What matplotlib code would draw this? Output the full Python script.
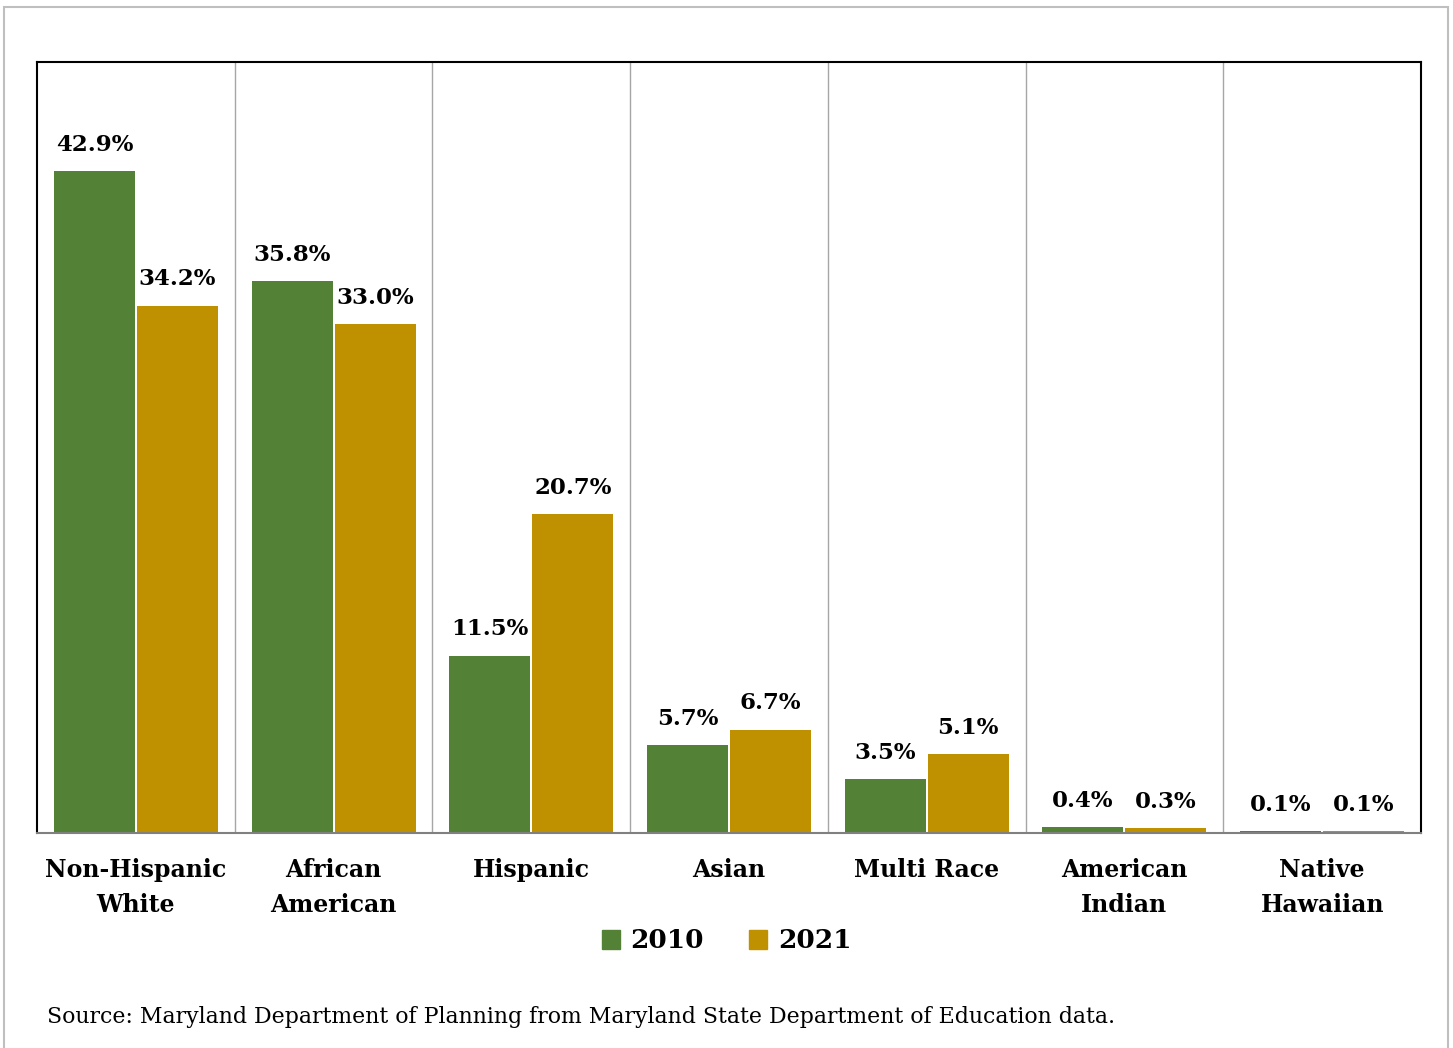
import matplotlib.pyplot as plt
from matplotlib.patches import Patch, Rectangle
from matplotlib.font_manager import FontProperties
import numpy as np

categories = ['Non-Hispanic\nWhite', 'African\nAmerican', 'Hispanic', 'Asian',
              'Multi Race', 'American\nIndian', 'Native\nHawaiian']
pct_2010 = [42.9, 35.8, 11.5, 5.7, 3.5, 0.4, 0.1]
pct_2021 = [34.2, 33.0, 20.7, 6.7, 5.1, 0.3, 0.1]

green = '#538135'
gold = '#BF9000'

plt.rcParams['font.family'] = 'DejaVu Serif'

fig = plt.figure(figsize=(14.53, 10.48), dpi=100)
ax = fig.add_axes([37 / 1453, 1 - 833 / 1048, 1384 / 1453, 771 / 1048])

# grey frame round the whole picture
fig.patches.append(Rectangle((4 / 1453, -0.01), 1444 / 1453, 1.01 - 7 / 1048,
                             transform=fig.transFigure, fill=False,
                             edgecolor='#bfbfbf', lw=1.5))

x = np.arange(len(categories))
w = 0.41
b1 = ax.bar(x - 0.21, pct_2010, w, color=green, lw=0)
b2 = ax.bar(x + 0.21, pct_2021, w, color=gold, lw=0)

for bars in (b1, b2):
    for r in bars:
        ax.annotate(f'{r.get_height():.1f}%', (r.get_x() + r.get_width() / 2, r.get_height()),
                    xytext=(0, 11), textcoords='offset points', ha='center', va='bottom',
                    fontsize=16.5, fontweight='bold')

for i in range(len(categories) - 1):
    ax.axvline(i + 0.5, color='#a6a6a6', lw=1)

ax.set_xlim(-0.5, len(categories) - 0.5)
ax.set_ylim(0, 50)
ax.set_yticks([])
ax.set_xticks(x)
ax.set_xticklabels(categories, fontsize=17, fontweight='bold', linespacing=1.58)
ax.tick_params(axis='x', length=0, pad=18)
for s in ('top', 'left', 'right'):
    ax.spines[s].set_color('black')
    ax.spines[s].set_linewidth(1.5)
ax.spines['bottom'].set_color('#808080')
ax.spines['bottom'].set_linewidth(1.5)

handles = [Patch(color=green, label='2010'), Patch(color=gold, label='2021')]
fig.legend(handles=handles, loc='center', bbox_to_anchor=(0.5, 1 - 941 / 1048), ncol=2,
           frameon=False, prop=FontProperties(family='DejaVu Serif', size=19, weight='bold'),
           handlelength=0.7, handleheight=0.7, handletextpad=0.4, columnspacing=1.7)

fig.text(47 / 1453, 1 - 1017 / 1048,
         'Source: Maryland Department of Planning from Maryland State Department of Education data.',
         fontsize=15.8, va='center', ha='left')

plt.savefig('out.png', dpi=100)
